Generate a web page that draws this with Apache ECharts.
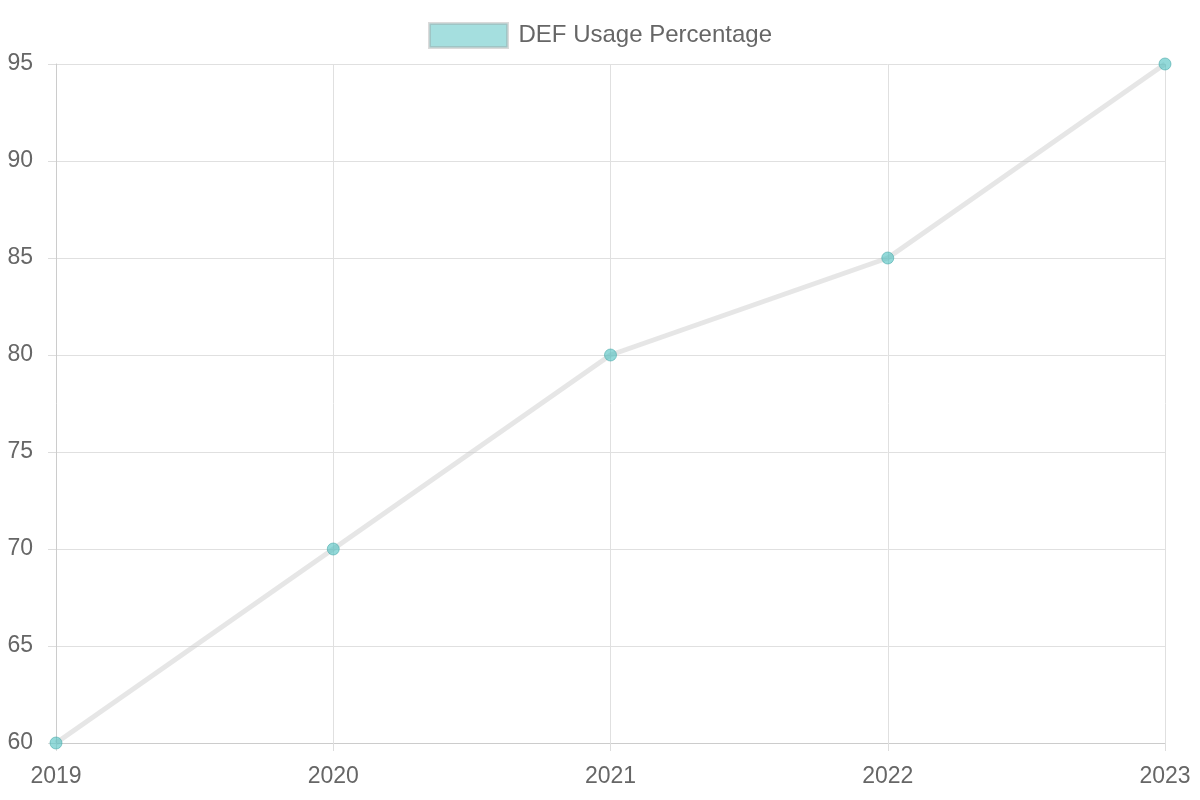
<!DOCTYPE html>
<html>
<head>
<meta charset="utf-8">
<script src="https://cdn.jsdelivr.net/npm/echarts@6/dist/echarts.min.js"></script>
<style>html,body{margin:0;padding:0;background:#fff}#chart{width:1200px;height:800px}</style>
</head>
<body>
<div id="chart"></div>
<script>
var years = ['2019', '2020', '2021', '2022', '2023'];
var usage = [60, 70, 80, 85, 95];

var chart = echarts.init(document.getElementById('chart'));
var option = {
    animation: false,
    textStyle: { fontFamily: 'Liberation Sans, Arial, sans-serif' },
    legend: {
        top: 17,
        left: 'center',
        icon: 'rect',
        itemWidth: 78,
        itemHeight: 24,
        itemGap: 10,
        itemStyle: { color: 'rgba(75,192,192,0.5)', borderColor: 'rgba(150,150,150,0.35)', borderWidth: 3 },
        textStyle: { fontSize: 24, color: '#666', padding: [0, 0, 0, 6] },
        data: ['DEF Usage Percentage']
    },
    grid: { left: 56, right: 35, top: 64, bottom: 57, containLabel: false },
    xAxis: {
        type: 'category',
        data: years,
        boundaryGap: false,
        axisLine: { lineStyle: { color: '#ccc' } },
        axisTick: { show: true, length: 8, lineStyle: { color: '#ddd' } },
        axisLabel: { fontSize: 23, color: '#666', margin: 22 },
        splitLine: { show: true, lineStyle: { color: '#e0e0e0' } }
    },
    yAxis: {
        type: 'value',
        min: 60,
        max: 95,
        interval: 5,
        axisLine: { show: true, lineStyle: { color: '#ccc' } },
        axisTick: { show: true, length: 8, lineStyle: { color: '#ddd' } },
        axisLabel: { fontSize: 23, color: '#666', margin: 23 },
        splitLine: { lineStyle: { color: '#e0e0e0' } }
    },
    series: [{
        name: 'DEF Usage Percentage',
        type: 'line',
        data: usage,
        symbol: 'circle',
        symbolSize: 12,
        lineStyle: { color: 'rgba(200,200,200,0.45)', width: 5 },
        itemStyle: { color: 'rgba(75,192,192,0.6)', borderColor: 'rgba(75,170,170,0.6)', borderWidth: 1 }
    }]
};
chart.setOption(option);
</script>
</body>
</html>
